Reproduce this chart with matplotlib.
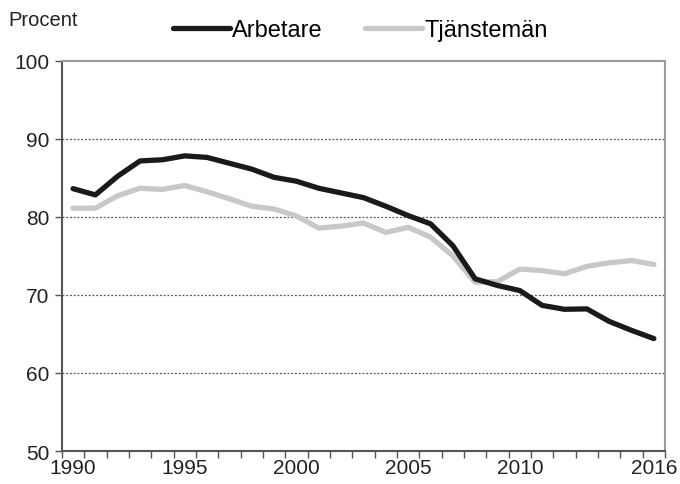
import numpy as np
import matplotlib.pyplot as plt
from matplotlib.ticker import MultipleLocator, FixedLocator

plt.rcParams['font.family'] = ['Liberation Sans', 'DejaVu Sans']

years = np.arange(1990, 2017)
arbetare = [83.6, 82.8, 85.2, 87.15, 87.3, 87.8, 87.6, 86.85, 86.1, 85.05,
            84.55, 83.65, 83.05, 82.45, 81.35, 80.15, 79.1, 76.3, 72.05, 71.2,
            70.55, 68.65, 68.15, 68.2, 66.6, 65.45, 64.4]
tjansteman = [81.1, 81.1, 82.7, 83.65, 83.5, 84.0, 83.2, 82.3, 81.35, 81.0,
              80.1, 78.55, 78.8, 79.2, 78.0, 78.65, 77.4, 75.0, 71.6, 71.7,
              73.3, 73.1, 72.7, 73.65, 74.1, 74.4, 73.9]
year_labels = [1990, 1995, 2000, 2005, 2010, 2016]

fig = plt.figure(figsize=(6.8, 4.85), dpi=100)
ax = fig.add_axes([0.091, 0.068, 0.887, 0.805])

ax.plot(years, arbetare, color='#1a1a1a', lw=3.8, solid_capstyle='round',
        solid_joinstyle='round', label='Arbetare', zorder=3)
ax.plot(years, tjansteman, color='#c8c8c8', lw=3.8, solid_capstyle='round',
        solid_joinstyle='round', label='Tjänstemän', zorder=2)

ax.set_xlim(1989.5, 2016.5)
ax.set_ylim(50, 100)
ax.yaxis.set_major_locator(MultipleLocator(10))
ax.xaxis.set_major_locator(FixedLocator(year_labels))
ax.xaxis.set_minor_locator(FixedLocator(np.arange(1989.5, 2017, 1)))
ax.tick_params(axis='x', which='major', length=0, labelsize=15, pad=5,
               colors='#222222')
ax.tick_params(axis='x', which='minor', length=5, width=1, color='#555555',
               direction='out')
ax.tick_params(axis='y', length=5, width=1, color='#555555', labelsize=15,
               pad=4, labelcolor='#222222')

for v in [60, 70, 80, 90]:
    ax.axhline(v, color='#555555', lw=0.9, ls=(0, (1.5, 1.5)), zorder=1)

for s in ['top', 'right']:
    ax.spines[s].set_color('#9a9a9a')
    ax.spines[s].set_linewidth(1.5)
for s in ['left', 'bottom']:
    ax.spines[s].set_color('#555555')
    ax.spines[s].set_linewidth(1.5)

fig.text(0.012, 0.958, 'Procent', fontsize=14.5, color='#222222', va='center')
fig.legend(loc='center', bbox_to_anchor=(0.53, 0.936), ncol=2, frameon=False,
           fontsize=17, handlelength=2.4, handletextpad=0.1,
           columnspacing=1.8, borderaxespad=0)

fig.savefig('out.png', dpi=100)
